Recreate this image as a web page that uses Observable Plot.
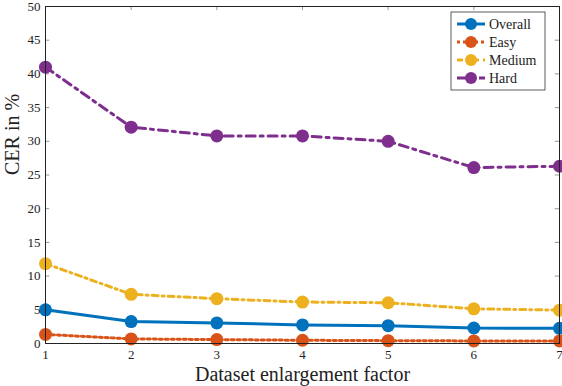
<!DOCTYPE html>
<html><head><meta charset="utf-8">
<script src="https://cdn.jsdelivr.net/npm/d3@7"></script>
<script src="https://cdn.jsdelivr.net/npm/@observablehq/plot@0.6"></script>
<style>
html,body{margin:0;padding:0;background:#fff;}
svg, svg text{font-family:"Liberation Serif","DejaVu Serif",serif !important;}
</style>
</head><body>
<div id="chart"></div>
<script>
const factors = [1, 2, 3, 4, 5, 6, 7];
const overall = [5.0, 3.25, 3.05, 2.75, 2.65, 2.3, 2.25];
const easy = [1.35, 0.68, 0.58, 0.48, 0.42, 0.38, 0.38];
const medium = [11.85, 7.3, 6.65, 6.15, 6.05, 5.15, 4.95];
const hard = [41.0, 32.1, 30.8, 30.8, 30.0, 26.1, 26.3];
const seriesNames = ["Overall", "Easy", "Medium", "Hard"];
const seriesValues = [overall, easy, medium, hard];
const colors = ["#0072BD", "#D95319", "#EDB120", "#7E2F8E"];
const dashes = [null, "3,3", "6,4,2,4", "9,5,3,5"];
const xTicks = [1, 2, 3, 4, 5, 6, 7];
const yTicks = [0, 5, 10, 15, 20, 25, 30, 35, 40, 45, 50];

const data = seriesNames.flatMap((s, i) => factors.map((f, j) => ({series: s, x: f, y: seriesValues[i][j]})));

const lineMarks = seriesNames.flatMap((s, i) => {
  const d = data.filter(r => r.series === s);
  return [
    Plot.line(d, {x: "x", y: "y", stroke: colors[i], strokeWidth: 3, strokeDasharray: dashes[i]}),
    Plot.dot(d, {x: "x", y: "y", r: 6.5, fill: colors[i], stroke: "none"})
  ];
});

const chart = Plot.plot({
  width: 562, height: 386,
  marginLeft: 45, marginRight: 3, marginTop: 6, marginBottom: 43,
  style: {fontFamily: "'Liberation Serif', 'DejaVu Serif', serif", background: "#fff"},
  x: {domain: [1, 7]},
  y: {domain: [0, 50]},
  marks: [
    Plot.ruleX(xTicks, {x: d => d, y1: 0, y2: 0.6, stroke: "#999"}),
    Plot.ruleX(xTicks, {x: d => d, y1: 50, y2: 49.4, stroke: "#999"}),
    Plot.ruleY(yTicks, {y: d => d, x1: 1, x2: 1.05, stroke: "#999"}),
    Plot.ruleY(yTicks, {y: d => d, x1: 7, x2: 6.95, stroke: "#999"}),
    ...lineMarks,
    Plot.frame({stroke: "#222", strokeWidth: 1}),
    Plot.axisX(xTicks, {tickSize: 0, tickPadding: 6, fontSize: 13, label: null, color: "#222"}),
    Plot.axisY(yTicks, {tickSize: 0, tickPadding: 5, fontSize: 13, label: null, color: "#222"}),
    Plot.text(["Dataset enlargement factor"], {frameAnchor: "bottom", dy: 37, fontSize: 20, fill: "#222"}),
    Plot.text(["CER in %"], {frameAnchor: "left", dx: -33, rotate: -90, fontSize: 20, fill: "#222"})
  ]
});

// legend
const svg = d3.select(chart);
const lg = svg.append("g").attr("transform", "translate(451,12)")
  .attr("font-family", "'Liberation Serif', 'DejaVu Serif', serif");
lg.append("rect").attr("width", 94).attr("height", 78).attr("fill", "#fff").attr("stroke", "#333").attr("stroke-width", 0.8);
seriesNames.forEach((s, i) => {
  const y = 12 + i * 18;
  lg.append("line").attr("x1", 6).attr("x2", 34).attr("y1", y).attr("y2", y)
    .attr("stroke", colors[i]).attr("stroke-width", 3).attr("stroke-dasharray", dashes[i]);
  lg.append("circle").attr("cx", 20).attr("cy", y).attr("r", 6).attr("fill", colors[i]);
  lg.append("text").attr("x", 38).attr("y", y).attr("dy", "0.35em").attr("text-anchor", "start")
    .attr("font-size", 14).attr("fill", "#222").text(s);
});
document.getElementById("chart").appendChild(chart);
</script>
</body></html>
